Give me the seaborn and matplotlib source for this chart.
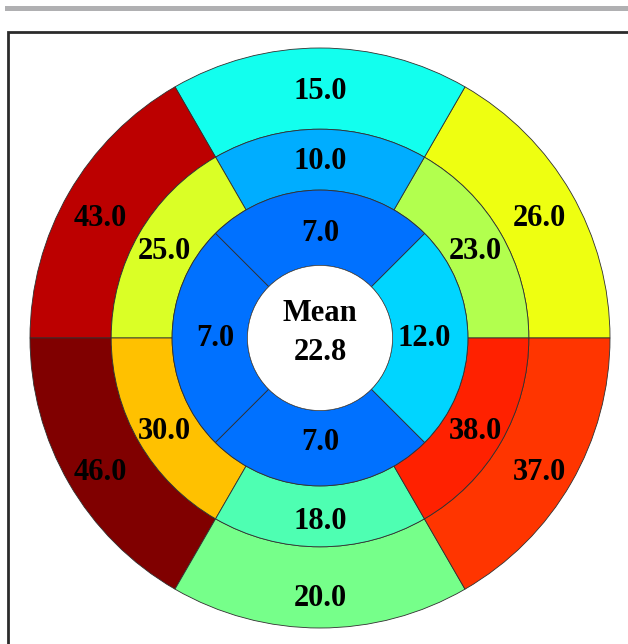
import numpy as np
import matplotlib
matplotlib.use("Agg")
import matplotlib.pyplot as plt
from matplotlib.patches import Wedge, Circle, Rectangle
from matplotlib.colors import LinearSegmentedColormap, Normalize
import seaborn as sns

# Segment values, listed counter-clockwise starting from the segment whose
# right edge sits at the stated start angle (degrees, 0 = 3 o'clock).
outer_vals = [26.0, 15.0, 43.0, 46.0, 20.0, 37.0]   # starts at 0 deg, 60 deg each
middle_vals = [23.0, 10.0, 25.0, 30.0, 18.0, 38.0]  # starts at 0 deg, 60 deg each
inner_vals = [12.0, 7.0, 7.0, 7.0]                  # starts at -45 deg, 90 deg each

sns.set_theme(style="white")
plt.rcParams["font.family"] = ["Liberation Serif", "DejaVu Serif"]

# MATLAB-style jet colour map
jet_segments = {
    "red":   [(0, 0, 0), (0.375, 0, 0), (0.625, 1, 1), (0.875, 1, 1), (1, 0.5, 0.5)],
    "green": [(0, 0, 0), (0.125, 0, 0), (0.375, 1, 1), (0.625, 1, 1), (0.875, 0, 0), (1, 0, 0)],
    "blue":  [(0, 0.5, 0.5), (0.125, 1, 1), (0.375, 1, 1), (0.625, 0, 0), (1, 0, 0)],
}
cmap = LinearSegmentedColormap("mjet", jet_segments, N=256)
norm = Normalize(vmin=-5, vmax=46)

W, H = 628, 644
fig = plt.figure(figsize=(W / 100, H / 100), dpi=100)
fig.patch.set_facecolor("white")

# Grey rule at the top and the dark frame around the panel
fig.patches.append(Rectangle((5 / W, 1 - 11 / H), 1, 5 / H, transform=fig.transFigure,
                             facecolor="#b0b0b2", edgecolor="none", zorder=0))
fig.patches.append(Rectangle((8 / W, -0.05), 1.2, (H - 32) / H + 0.05,
                             transform=fig.transFigure, facecolor="none",
                             edgecolor="#2b2b2b", linewidth=2.0, zorder=0))

# Bullseye axes: centre at (320, 338) px, outer radius 290 px
cx, cy, R = 320, 338, 290
half = 300
ax = fig.add_axes([(cx - half) / W, (H - cy - half) / H, 2 * half / W, 2 * half / H])
lim = half / R
ax.set_xlim(-lim, lim)
ax.set_ylim(-lim, lim)
ax.set_aspect("equal")
ax.axis("off")

r_center, r_inner, r_middle, r_outer = 0.25, 0.51, 0.72, 1.0
edge = dict(edgecolor="#303030", linewidth=0.6)
txt = dict(ha="center", va="center", fontsize=22, fontweight="bold", color="black")


def draw_ring(vals, r_in, r_out, start, r_lab, dy):
    step = 360 / len(vals)
    for i, v in enumerate(vals):
        a0 = start + i * step
        ax.add_patch(Wedge((0, 0), r_out, a0, a0 + step, width=r_out - r_in,
                           facecolor=cmap(norm(v)), **edge))
        mid = np.deg2rad(a0 + step / 2)
        ax.text(r_lab * np.cos(mid), r_lab * np.sin(mid) + dy, f"{v:.1f}", **txt)


draw_ring(outer_vals, r_middle, r_outer, 0, 0.875, -0.025)
draw_ring(middle_vals, r_inner, r_middle, 0, 0.62, -0.012)
draw_ring(inner_vals, r_center, r_inner, -45, 0.36, 0.0)

ax.add_patch(Circle((0, 0), r_center, facecolor="white", edgecolor="#303030", linewidth=0.4))
mean_val = np.mean(outer_vals + middle_vals + inner_vals)
ax.text(0, 0.085, "Mean", **txt)
ax.text(0, -0.05, f"{mean_val:.1f}", **txt)

fig.savefig("out.png", dpi=100, facecolor="white")
